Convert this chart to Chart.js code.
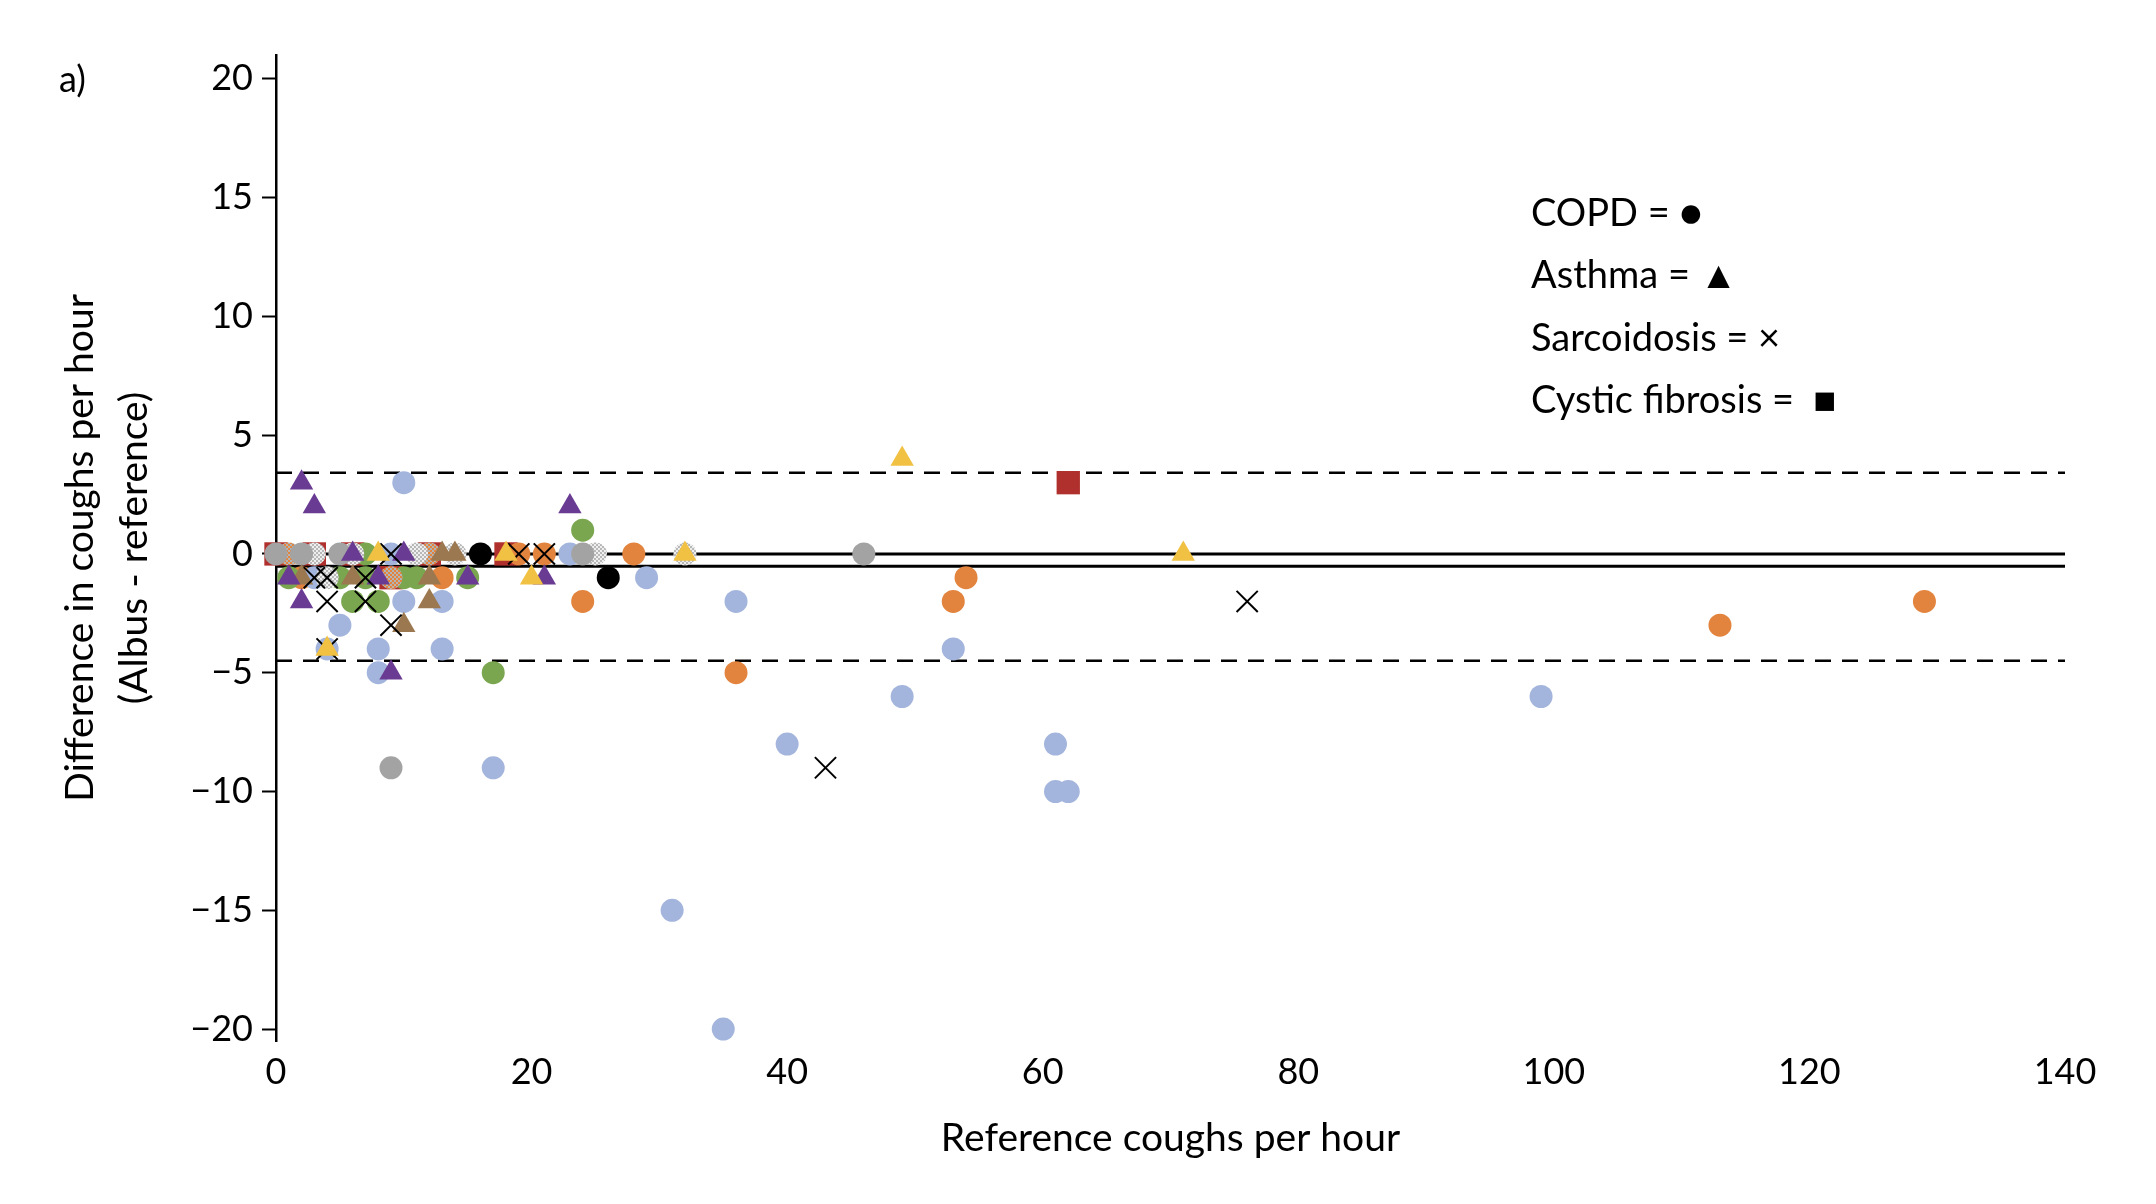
<!DOCTYPE html>
<html>
<head>
<meta charset="utf-8">
<script src="https://cdn.jsdelivr.net/npm/chart.js@4.4.1/dist/chart.umd.min.js"></script>
<style>
  html, body { margin: 0; padding: 0; background: #fff; }
  #wrap { position: relative; width: 2156px; height: 1204px; font-family: Lato, "Noto Sans", sans-serif; color: #000; }
  #tag { position: absolute; left: 59px; top: 55px; font-size: 36px; line-height: 46px; }
  .key { position: absolute; left: 1531px; font-size: 38px; line-height: 46px; white-space: nowrap; }
</style>
</head>
<body>
<div id="wrap">
  <canvas id="blandAltman" width="2156" height="1204"></canvas>
  <div id="tag">a)</div>
  <div class="key" style="top:188px">COPD = ●</div>
  <div class="key" style="top:250px">Asthma = ▲</div>
  <div class="key" style="top:313px">Sarcoidosis = ×</div>
  <div class="key" style="top:375px">Cystic fibrosis = &nbsp;■</div>
</div>
<script>
// points: [reference coughs/h, Albus - reference]
const lightBlue = [[10,3],[9,0],[23,0],[3,-1],[29,-1],[10,-2],[13,-2],[36,-2],[5,-3],[4,-4],[8,-4],[13,-4],[53,-4],[8,-5],[49,-6],[99,-6],[40,-8],[61,-8],[17,-9],[61,-10],[62,-10],[31,-15],[35,-20]];
const orange = [[19,0],[21,0],[28,0],[2,-1],[13,-1],[54,-1],[24,-2],[53,-2],[129,-2],[113,-3],[36,-5]];
const green = [[24,1],[7,0],[1,-1],[5,-1],[7,-1],[10,-1],[11,-1],[15,-1],[6,-2],[8,-2],[17,-5]];
const grey = [[0,0],[2,0],[5,0],[24,0],[46,0],[9,-9]];
const black = [[16,0],[26,-1]];
const hatchedGrey = [[3,0],[6,0],[11,0],[14,0],[25,0],[32,0],[4,-1]];
const hatchedOrange = [[1,0],[12,0],[9,-1]];
const purple = [[2,3],[3,2],[23,2],[6,0],[10,0],[1,-1],[8,-1],[15,-1],[21,-1],[2,-2],[9,-5]];
const brown = [[13,0],[14,0],[2,-1],[6,-1],[12,-1],[12,-2],[10,-3]];
const yellow = [[49,4],[71,0],[18,0],[8,0],[32,0],[20,-1],[4,-4]];
const sarcoid = [[9,0],[19,0],[21,0],[3,-1],[4,-1],[7,-1],[4,-2],[7,-2],[9,-3],[4,-4],[76,-2],[43,-9]];
const cf = [[0,0],[3,0],[6,0],[12,0],[18,0],[9,-1],[62,3]];

const bias = -0.52;
const upperLoA = 3.42;
const lowerLoA = -4.5;
const xRange = [0, 140];
const xTicks = [0, 20, 40, 60, 80, 100, 120, 140];
const yTicks = [-20, -15, -10, -5, 0, 5, 10, 15, 20];

function hatch(c1, c2) {
    var p = document.createElement('canvas');
    p.width = 4; p.height = 4;
    var g = p.getContext('2d');
    g.fillStyle = c2; g.fillRect(0, 0, 4, 4);
    g.fillStyle = c1; g.fillRect(0, 0, 2, 2); g.fillRect(2, 2, 2, 2);
    return g.createPattern(p, 'repeat');
}

function pts(arr) {
    return arr.map(function (d) { return {x: d[0], y: d[1]}; });
}

function marks(arr, style, color, radius, order) {
    var ds = {
        data: pts(arr),
        pointStyle: style,
        pointRadius: radius,
        pointBackgroundColor: color,
        pointBorderColor: color,
        pointBorderWidth: 0,
        clip: false,
        order: order
    };
    if (style === 'crossRot') {
        ds.pointBorderColor = '#000';
        ds.pointBorderWidth = 2;
    }
    return ds;
}

function hline(y, dashed, width) {
    return {
        data: xRange.map(function (x) { return {x: x, y: y}; }),
        showLine: true,
        pointRadius: 0,
        borderColor: '#000',
        borderWidth: width,
        borderDash: dashed ? [16, 11] : [],
        order: 100
    };
}

var ctx = document.getElementById('blandAltman');

new Chart(ctx, {
    type: 'scatter',
    data: {
        datasets: [
            hline(0, false, 3),
            hline(bias, false, 3),
            hline(upperLoA, true, 2.5),
            hline(lowerLoA, true, 2.5),
            marks(cf, 'rect', '#b0302d', 16.5, 20),
            marks(black, 'circle', '#000000', 11.5, 18),
            marks(orange, 'circle', '#e2843e', 11.5, 17),
            marks(green, 'circle', '#79a64f', 11.5, 16),
            marks(lightBlue, 'circle', '#a3b5dc', 11.5, 15),
            marks(hatchedOrange, 'circle', hatch('#e2843e', '#b5b5b5'), 11.5, 14),
            marks(hatchedGrey, 'circle', hatch('#b8b8b8', '#efefef'), 11.5, 13),
            marks(grey, 'circle', '#a3a3a3', 11.5, 12),
            marks(brown, 'triangle', '#9c7850', 13.5, 11),
            marks(purple, 'triangle', '#6a3b93', 13.5, 10),
            marks(sarcoid, 'crossRot', '#000', 15, 9),
            marks(yellow, 'triangle', '#f1c143', 13.5, 8)
        ]
    },
    options: {
        responsive: false,
        devicePixelRatio: 1,
        animation: false,
        layout: {padding: {top: 55, right: 91, bottom: 0, left: 0}},
        plugins: {legend: {display: false}, tooltip: {enabled: false}},
        scales: {
            x: {
                type: 'linear',
                min: xRange[0],
                max: xRange[1],
                afterBuildTicks: function (scale) {
                    scale.ticks = xTicks.map(function (v) { return {value: v}; });
                },
                afterFit: function (scale) { scale.height = 163; },
                grid: {display: false, drawTicks: false},
                border: {display: false},
                ticks: {color: '#000', padding: 10, maxRotation: 0, font: {family: 'Lato', size: 36}},
                title: {
                    display: true,
                    text: 'Reference coughs per hour',
                    color: '#000',
                    font: {family: 'Lato', size: 39},
                    padding: {top: 0, bottom: 42}
                }
            },
            y: {
                type: 'linear',
                min: -20.5,
                max: 21,
                afterBuildTicks: function (scale) {
                    scale.ticks = yTicks.map(function (v) { return {value: v}; });
                },
                afterFit: function (scale) { scale.width = 276; },
                grid: {drawOnChartArea: false, drawTicks: true, tickLength: 14, tickWidth: 2, color: '#000'},
                border: {display: true, color: '#000', width: 2.5},
                ticks: {
                    color: '#000',
                    padding: 9,
                    font: {family: 'Lato', size: 36},
                    callback: function (v) { return String(v).replace('-', '\u2212'); }
                },
                title: {
                    display: true,
                    text: ['Difference in coughs per hour', '(Albus - reference)'],
                    color: '#000',
                    font: {family: 'Lato', size: 39, lineHeight: 1.385},
                    padding: {top: 53, bottom: 0}
                }
            }
        }
    }
});
</script>
</body>
</html>
